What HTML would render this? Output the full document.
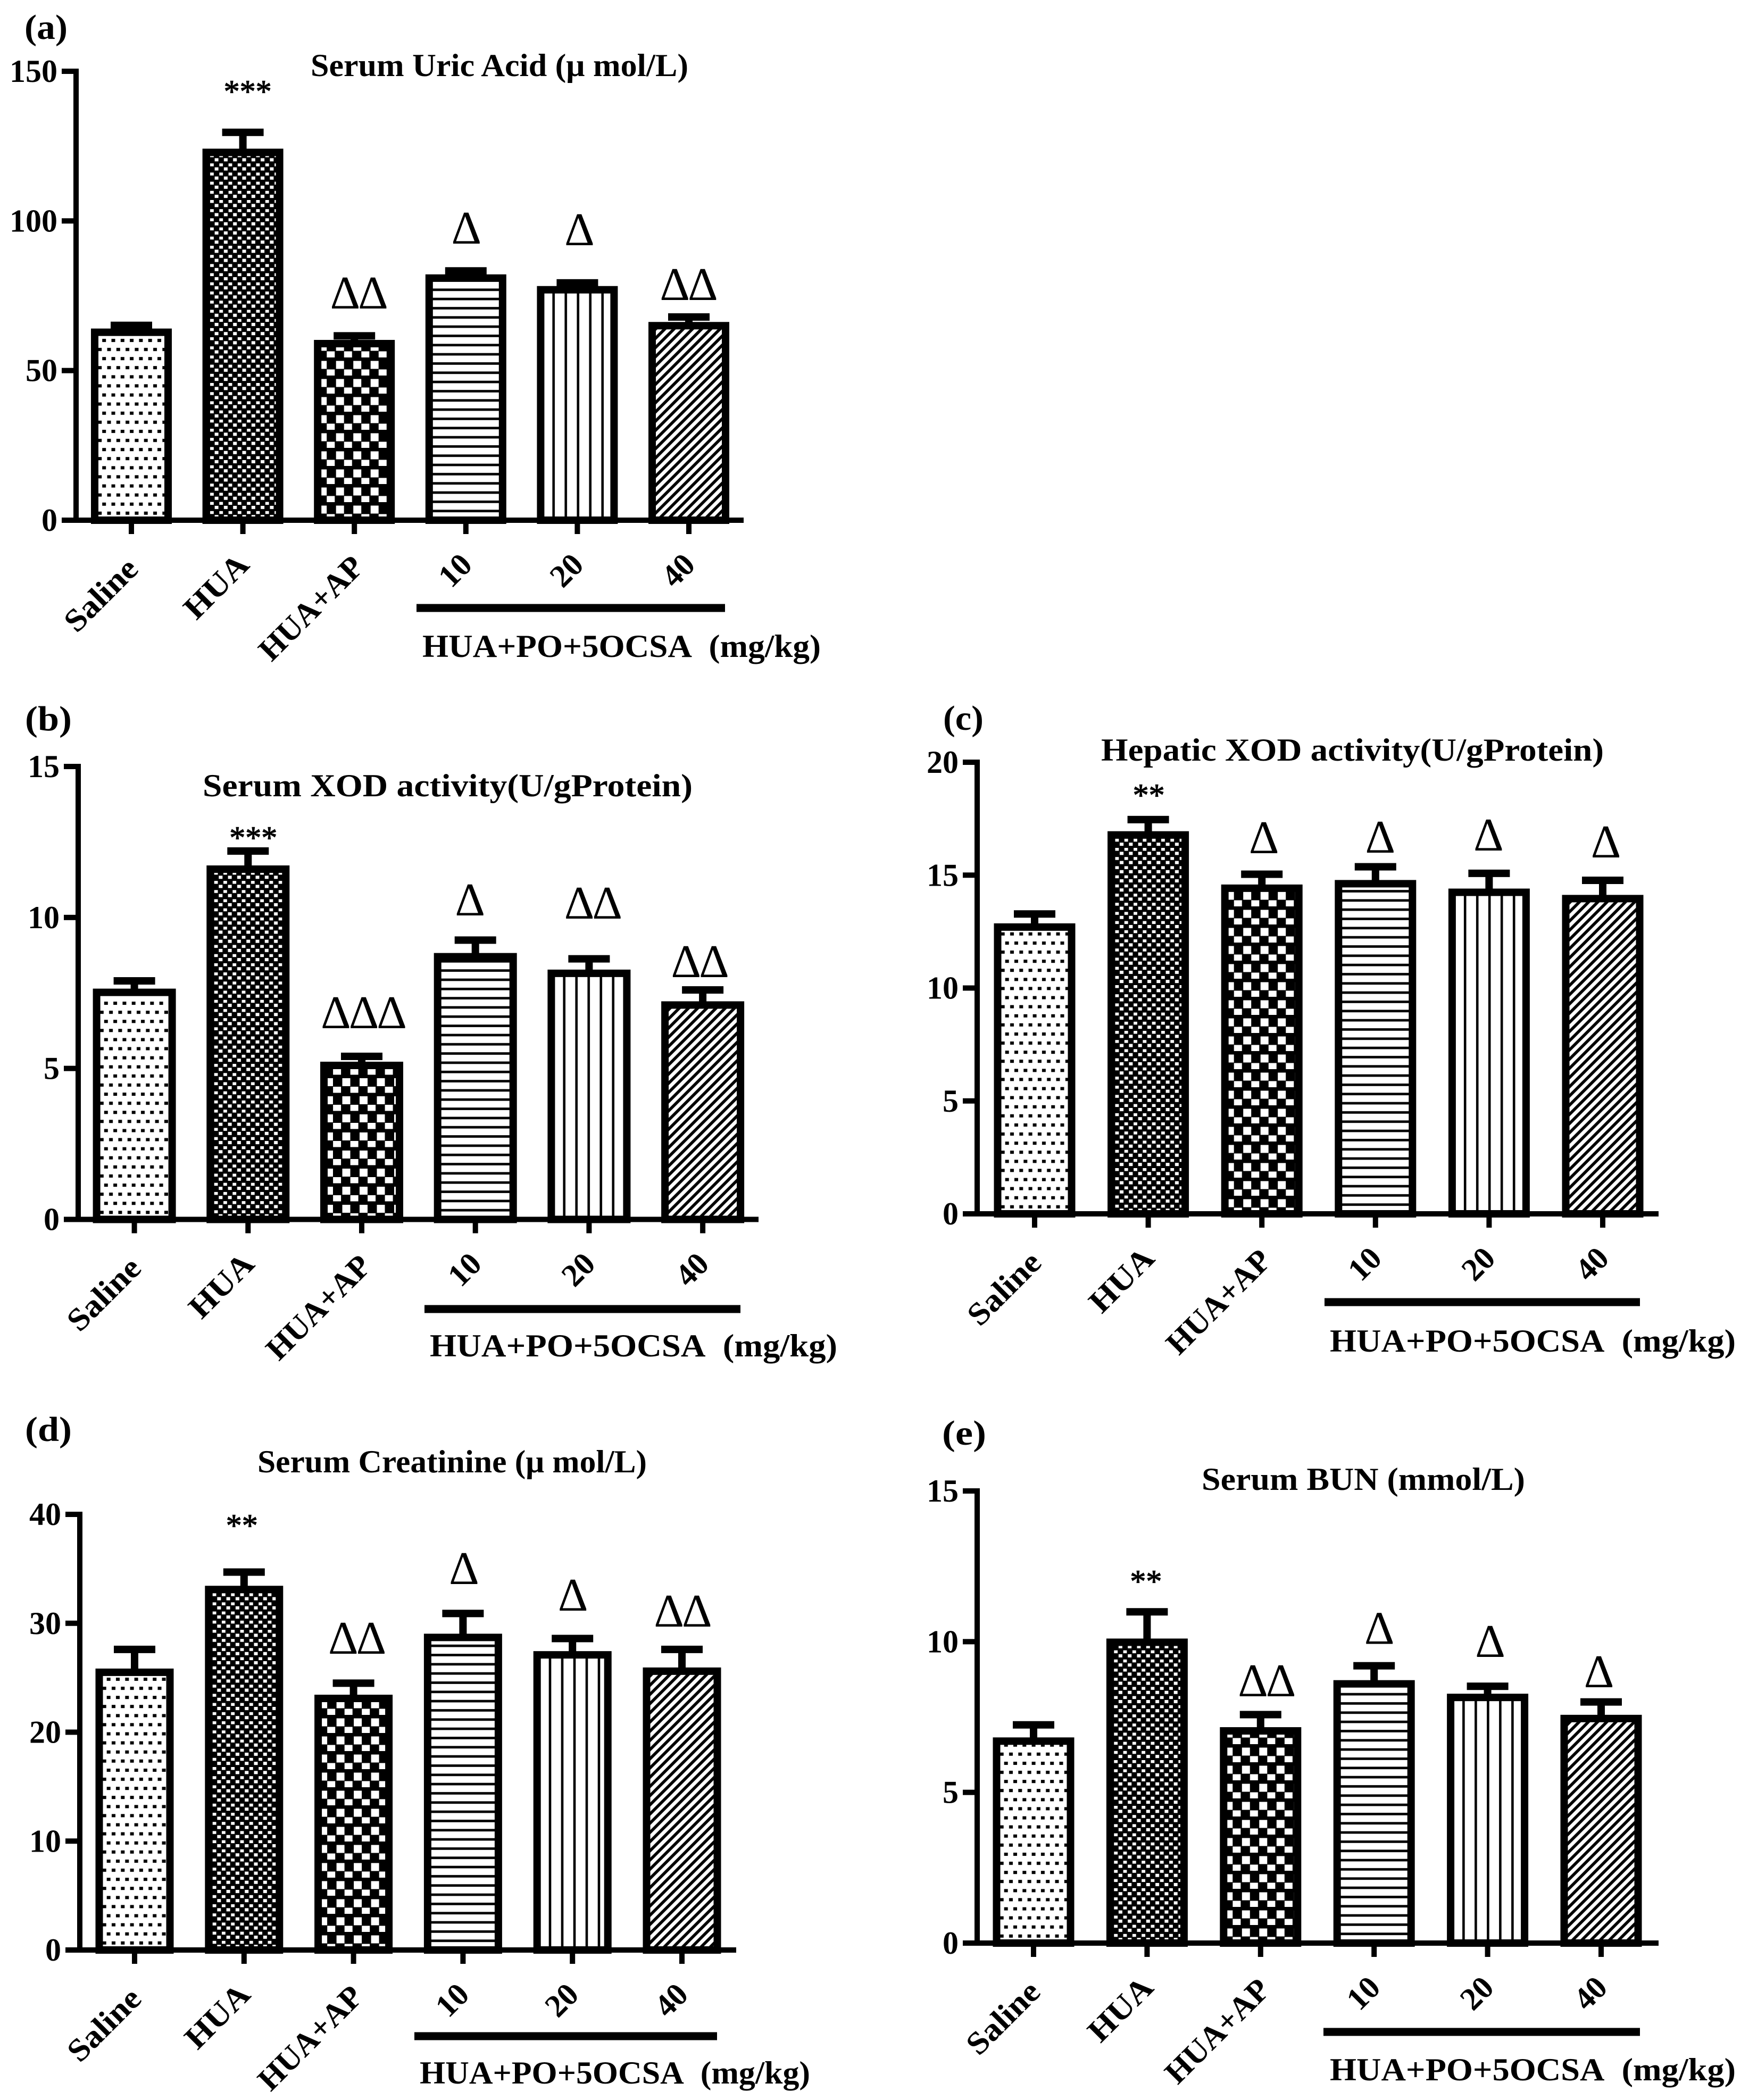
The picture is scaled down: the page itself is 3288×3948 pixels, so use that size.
<!DOCTYPE html>
<html lang="en">
<head>
<meta charset="utf-8">
<title>Serum and hepatic markers bar charts</title>
<style>
html,body{margin:0;padding:0;background:#fff;}
#figure{display:block;width:3288px;height:3948px;background:#fff;}
text{font-family:"Liberation Serif",serif;fill:#000;}
</style>
</head>
<body>
<svg id="figure" xmlns="http://www.w3.org/2000/svg" width="3288" height="3948" viewBox="0 0 3288 3948">
<defs>
<pattern id="p-dots" patternUnits="userSpaceOnUse" width="17.3" height="34.2">
<rect x="3.9" y="1" width="7" height="6" fill="#000"/>
<rect x="13.2" y="18" width="4.1" height="6" fill="#000"/>
<rect x="0" y="18" width="2.9" height="6" fill="#000"/>
</pattern>
<pattern id="p-dense" patternUnits="userSpaceOnUse" width="17.3" height="17.2">
<rect width="17.3" height="17.2" fill="#000"/>
<rect x="0" y="0" width="3.9" height="5.5" fill="#fff"/>
<rect x="14.4" y="0" width="2.9" height="5.5" fill="#fff"/>
<rect x="5.7" y="7.4" width="7" height="6" fill="#fff"/>
</pattern>
<pattern id="p-checker" patternUnits="userSpaceOnUse" width="32.5" height="34">
<rect width="32.5" height="34" fill="#000"/>
<rect x="9" y="6.5" width="15" height="15" fill="#fff"/>
<rect x="24.1" y="22.5" width="8.4" height="11.5" fill="#fff"/>
<rect x="0" y="22.5" width="6.6" height="11.5" fill="#fff"/>
</pattern>
<pattern id="p-hlines" patternUnits="userSpaceOnUse" width="20" height="17.33">
<rect x="0" y="0" width="20" height="2.4" fill="#000"/>
<rect x="0" y="15" width="20" height="2.33" fill="#000"/>
</pattern>
<pattern id="p-vlines" patternUnits="userSpaceOnUse" width="23" height="20">
<rect x="6" y="0" width="4.6" height="20" fill="#000"/>
</pattern>
<pattern id="p-diag" patternUnits="userSpaceOnUse" width="17.3" height="17.3">
<line x1="-4" y1="21.3" x2="21.3" y2="-4" stroke="#000" stroke-width="5.6"/>
<line x1="-4" y1="4" x2="4" y2="-4" stroke="#000" stroke-width="5.6"/>
<line x1="13.3" y1="21.3" x2="21.3" y2="13.3" stroke="#000" stroke-width="5.6"/>
</pattern>
</defs>
</svg>
<script>
const categories = ["Saline", "HUA", "HUA+AP", "10", "20", "40"];

const aTicks = [0, 50, 100, 150];
const aMeans = [62.8, 122.9, 59, 80.9, 77, 65];
const aUppers = [65.1, 129.6, 61.6, 83.3, 79.3, 67.9];
const aSig = ["", "***", "ΔΔ", "Δ", "Δ", "ΔΔ"];
const aSigLevels = [0, 139.7, 70.7, 92.4, 91.9, 73.6];

const bTicks = [0, 5, 10, 15];
const bMeans = [7.52, 11.6, 5.1, 8.7, 8.15, 7.1];
const bUppers = [7.9, 12.2, 5.4, 9.25, 8.63, 7.6];
const bSig = ["", "***", "ΔΔΔ", "Δ", "ΔΔ", "ΔΔ"];
const bSigLevels = [0, 12.29, 6.33, 10.07, 9.96, 8.02];

const cTicks = [0, 5, 10, 15, 20];
const cMeans = [12.7, 16.78, 14.42, 14.62, 14.24, 13.96];
const cUppers = [13.28, 17.46, 15.04, 15.37, 15.08, 14.77];
const cSig = ["", "**", "Δ", "Δ", "Δ", "Δ"];
const cSigLevels = [0, 18.07, 15.97, 15.99, 16.09, 15.78];

const dTicks = [0, 10, 20, 30, 40];
const dMeans = [25.5, 33.1, 23.1, 28.7, 27.1, 25.6];
const dUppers = [27.6, 34.7, 24.5, 30.9, 28.6, 27.6];
const dSig = ["", "**", "ΔΔ", "Δ", "Δ", "ΔΔ"];
const dSigLevels = [0, 38, 27.2, 33.6, 31.16, 29.7];

const eTicks = [0, 5, 10, 15];
const eMeans = [6.7, 9.98, 7.04, 8.6, 8.15, 7.45];
const eUppers = [7.24, 10.99, 7.58, 9.2, 8.52, 8.0];
const eSig = ["", "**", "ΔΔ", "Δ", "Δ", "Δ"];
const eSigLevels = [0, 11.65, 8.19, 9.93, 9.49, 8.49];

const patternIds = ["p-dots", "p-dense", "p-checker", "p-hlines", "p-vlines", "p-diag"];
const labelFit = [168, 145, 250, 0, 0, 0];
const labelDx = [2, 1, 7, 1, 1, 1];
const labelDy = [0, -8, -4, -8, -8, -8];

const panels = [
  {id: "a", letter: "(a)", letterX: 46, letterY: 73, letterW: 81,
   title: "Serum Uric Acid (μ mol/L)", titleX: 584, titleY: 143, titleW: 710,
   axisX: 143, y0: 978, yTop: 134, xStart: 120, xEnd: 1398, firstX: 247, step: 209.6, barW: 152,
   ticks: aTicks, means: aMeans, uppers: aUppers, sig: aSig, sigLevels: aSigLevels,
   sigDx: [0, 9, 7, -1, 2, -2],
   ruleX1: 783, ruleX2: 1363, ruleY: 1143,
   groupX: 794, groupY: 1235, groupW: 749},
  {id: "b", letter: "(b)", letterX: 47, letterY: 1373, letterW: 88,
   title: "Serum XOD activity(U/gProtein)", titleX: 381, titleY: 1497, titleW: 921,
   axisX: 147, y0: 2292.5, yTop: 1441, xStart: 121, xEnd: 1426, firstX: 252.6, step: 213.7, barW: 156,
   ticks: bTicks, means: bMeans, uppers: bUppers, sig: bSig, sigLevels: bSigLevels,
   sigDx: [0, 10, 2, -12, 6, -7],
   ruleX1: 798, ruleX2: 1392, ruleY: 2461,
   groupX: 808, groupY: 2550, groupW: 766},
  {id: "c", letter: "(c)", letterX: 1773, letterY: 1372, letterW: 76,
   title: "Hepatic XOD activity(U/gProtein)", titleX: 2070, titleY: 1430, titleW: 945,
   axisX: 1837, y0: 2282, yTop: 1433, xStart: 1814, xEnd: 3118, firstX: 1945, step: 213.6, barW: 153,
   ticks: cTicks, means: cMeans, uppers: cUppers, sig: cSig, sigLevels: cSigLevels,
   sigDx: [0, 1, 2, 7, -3, 4],
   ruleX1: 2490, ruleX2: 3083, ruleY: 2448,
   groupX: 2500, groupY: 2541, groupW: 763},
  {id: "d", letter: "(d)", letterX: 47, letterY: 2709, letterW: 88,
   title: "Serum Creatinine (μ mol/L)", titleX: 484, titleY: 2768, titleW: 732,
   axisX: 150, y0: 3666, yTop: 2847, xStart: 126, xEnd: 1384, firstX: 253, step: 205.8, barW: 147,
   ticks: dTicks, means: dMeans, uppers: dUppers, sig: dSig, sigLevels: dSigLevels,
   sigDx: [0, -4, 5, 0, -1, 0],
   ruleX1: 779, ruleX2: 1348, ruleY: 3828,
   groupX: 789, groupY: 3917, groupW: 734},
  {id: "e", letter: "(e)", letterX: 1771, letterY: 2716, letterW: 83,
   title: "Serum BUN (mmol/L)", titleX: 2259, titleY: 2801, titleW: 608,
   axisX: 1837, y0: 3653, yTop: 2803, xStart: 1811, xEnd: 3118, firstX: 1943, step: 213.4, barW: 153,
   ticks: eTicks, means: eMeans, uppers: eUppers, sig: eSig, sigLevels: eSigLevels,
   sigDx: [0, -2, 10, 8, 3, -6],
   ruleX1: 2488, ruleX2: 3083, ruleY: 3820,
   groupX: 2500, groupY: 3911, groupW: 763}
];

const SVG_NS = "http://www.w3.org/2000/svg";
const root = document.getElementById("figure");

function make(tag, attrs, parent, content) {
  const el = document.createElementNS(SVG_NS, tag);
  for (const key in attrs) { el.setAttribute(key, attrs[key]); }
  if (content !== undefined) { el.textContent = content; }
  parent.appendChild(el);
  return el;
}

function yScale(p, value) {
  const top = p.ticks[p.ticks.length - 1];
  return p.y0 - value * (p.y0 - p.yTop) / top;
}

function xScale(p, index) {
  return p.firstX + index * p.step;
}

panels.forEach(function (p) {
  const g = make("g", {}, root);
  
  

  const letter = make("text", {x: p.letterX, y: p.letterY, "font-size": 66, "font-weight": "bold", textLength: p.letterW, lengthAdjust: "spacingAndGlyphs"}, g, p.letter);
  
  

  const title = make("text", {x: p.titleX, y: p.titleY, "font-size": 60, "font-weight": "bold", textLength: p.titleW, lengthAdjust: "spacingAndGlyphs"}, g, p.title);
  
  

  p.means.forEach(function (value, i) {
    const cx = xScale(p, i);
    const left = cx - p.barW / 2;
    const yVal = yScale(p, value);
    const yUp = yScale(p, p.uppers[i]);

    const stem = make("rect", {x: cx - 7, y: yUp, width: 14, height: yVal - yUp, fill: "#000"}, g);
    
    

    const cap = make("rect", {x: cx - 39, y: yUp - 7, width: 78, height: 14, fill: "#000"}, g);
    
    

    const barGroup = make("g", {transform: "translate(" + left + " " + p.y0 + ")"}, g);
    
    

    const bg = make("rect", {x: 7, y: yVal - p.y0, width: p.barW - 14, height: p.y0 - yVal, fill: "#fff"}, barGroup);
    
    

    const fill = make("rect", {x: 7, y: yVal - p.y0, width: p.barW - 14, height: p.y0 - yVal, fill: "url(#" + patternIds[i] + ")"}, barGroup);
    
    

    const outline = make("rect", {x: 7, y: yVal - p.y0, width: p.barW - 14, height: p.y0 - yVal, fill: "none", stroke: "#000", "stroke-width": 14}, barGroup);
    
    

    const tick = make("rect", {x: cx - 5, y: p.y0, width: 10, height: 26, fill: "#000"}, g);
    
    

    const lx = cx + 14 + labelDx[i];
    const ly = p.y0 + 95 + labelDy[i];
    const labelAttrs = {x: lx, y: ly, "font-size": 60, "font-weight": "bold", "text-anchor": "end", transform: "rotate(-45 " + lx + " " + ly + ")"};
    if (labelFit[i]) {
      labelAttrs.textLength = labelFit[i];
      labelAttrs.lengthAdjust = "spacingAndGlyphs";
    }
    const label = make("text", labelAttrs, g, categories[i]);
    
    

    if (p.sig[i]) {
      const isStar = p.sig[i].charAt(0) === "*";
      const markAttrs = {x: cx + p.sigDx[i], y: yScale(p, p.sigLevels[i]), "font-size": isStar ? 60 : 88, "text-anchor": "middle"};
      if (isStar) {
        markAttrs.stroke = "#000";
        markAttrs["stroke-width"] = 1.2;
      } else {
        markAttrs["letter-spacing"] = -4;
      }
      const mark = make("text", markAttrs, g, p.sig[i]);
      
      
    }
  });

  const yAxis = make("rect", {x: p.axisX - 5, y: p.yTop - 5, width: 10, height: p.y0 - p.yTop + 10, fill: "#000"}, g);
  
  

  const xAxis = make("rect", {x: p.xStart, y: p.y0 - 5, width: p.xEnd - p.xStart, height: 10, fill: "#000"}, g);
  
  

  p.ticks.forEach(function (t) {
    const ty = yScale(p, t);
    const yTick = make("rect", {x: p.axisX - 27, y: ty - 5, width: 27, height: 10, fill: "#000"}, g);
    
    

    const yLabel = make("text", {x: p.axisX - 35, y: ty + 20, "font-size": 60, "font-weight": "bold", "text-anchor": "end"}, g, String(t));
    
    
  });

  const rule = make("rect", {x: p.ruleX1, y: p.ruleY - 7.5, width: p.ruleX2 - p.ruleX1, height: 15, fill: "#000"}, g);
  
  

  const group = make("text", {x: p.groupX, y: p.groupY, "font-size": 60, "font-weight": "bold", textLength: p.groupW, lengthAdjust: "spacingAndGlyphs"}, g, "HUA+PO+5OCSA\u00A0\u00A0(mg/kg)");
  
  
});
</script>
</body>
</html>
